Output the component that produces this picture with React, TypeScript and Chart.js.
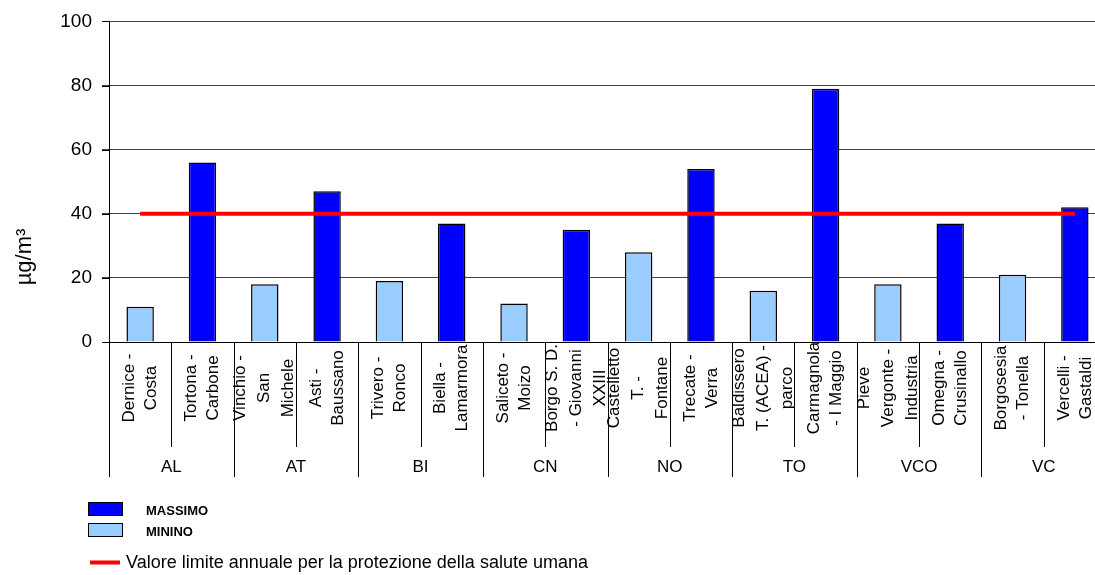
import React, { useEffect, useRef } from "react";
import { Chart, registerables } from "chart.js";

Chart.register(...registerables);

// ---- data ----
const stationLabels: string[][] = [
  ["Dernice -", "Costa"],
  ["Tortona -", "Carbone"],
  ["Vinchio -", "San", "Michele"],
  ["Asti -", "Baussano"],
  ["Trivero -", "Ronco"],
  ["Biella -", "Lamarmora"],
  ["Saliceto -", "Moizo"],
  ["Borgo S. D.", "- Giovanni", "XXIII"],
  ["Castelletto", "T. -", "Fontane"],
  ["Trecate -", "Verra"],
  ["Baldissero", "T. (ACEA) -", "parco"],
  ["Carmagnola", "- I Maggio"],
  ["Pieve", "Vergonte -", "Industria"],
  ["Omegna -", "Crusinallo"],
  ["Borgosesia", "- Tonella"],
  ["Vercelli -", "Gastaldi"],
];
const provinces = ["AL", "AT", "BI", "CN", "NO", "TO", "VCO", "VC"];
const stationsPerProvince = [2, 2, 2, 2, 2, 2, 2, 2];
const seriesType = ["min", "max", "min", "max", "min", "max", "min", "max", "min", "max", "min", "max", "min", "max", "min", "max"];
const values = [11, 56, 18, 47, 19, 37, 12, 35, 28, 54, 16, 79, 18, 37, 21, 42];
const limitValue = 40;
const yMin = 0;
const yMax = 100;
const yStep = 20;
const seriesNames = ["MASSIMO", "MININO"];
const limitLabel = "Valore limite annuale per la protezione della salute umana";
const yTitle = "µg/m³";

// ---- styles ----
const FONT = "'Liberation Sans', Arial, Helvetica, sans-serif";
const COLOR_MAX = "#0000FF";
const COLOR_MIN = "#99CCFF";
const COLOR_LIMIT = "#FF0000";

const customPlugin = {
  id: "customAxisLegend",
  afterDraw(chart: any) {
    const ctx = chart.ctx as CanvasRenderingContext2D;
    const xs = chart.scales.x;
    const ys = chart.scales.y;
    const area = chart.chartArea;
    const n = stationLabels.length;
    const w = (area.right - area.left) / n;

    ctx.save();
    ctx.strokeStyle = "#000";
    ctx.lineWidth = 1;

    // y tick marks (outside)
    ys.ticks.forEach((t: any) => {
      const py = Math.round(ys.getPixelForValue(t.value)) + 0.5;
      ctx.beginPath();
      ctx.moveTo(area.left - 7, py);
      ctx.lineTo(area.left, py);
      ctx.stroke();
    });

    // category boundaries
    const groupBounds = new Set<number>([0]);
    let acc = 0;
    stationsPerProvince.forEach((c) => {
      acc += c;
      groupBounds.add(acc);
    });
    for (let i = 0; i <= n; i++) {
      const bx = Math.round(xs.getPixelForValue(i) - w / 2) + 0.5;
      const isGroup = groupBounds.has(i);
      ctx.beginPath();
      ctx.moveTo(bx, area.bottom);
      ctx.lineTo(bx, area.bottom + (isGroup ? 135 : 105));
      ctx.stroke();
    }

    // station labels
    ctx.fillStyle = "#000";
    ctx.font = `17px ${FONT}`;
    ctx.textAlign = "center";
    ctx.textBaseline = "middle";
    stationLabels.forEach((lines, i) => {
      const cx = xs.getPixelForValue(i);
      const lh = lines.length >= 3 ? 24 : 22;
      lines.forEach((line, k) => {
        const lx = cx + (k - (lines.length - 1) / 2) * lh;
        ctx.save();
        ctx.translate(lx, area.bottom + 46);
        ctx.rotate(-Math.PI / 2);
        ctx.fillText(line, 0, 0);
        ctx.restore();
      });
    });

    // province labels
    let start = 0;
    provinces.forEach((p, g) => {
      const cnt = stationsPerProvince[g];
      const x0 = xs.getPixelForValue(start) - w / 2;
      const x1 = xs.getPixelForValue(start + cnt - 1) + w / 2;
      ctx.fillText(p, (x0 + x1) / 2, area.bottom + 125);
      start += cnt;
    });

    // y title
    ctx.save();
    ctx.font = `22px ${FONT}`;
    ctx.translate(25, 257);
    ctx.rotate(-Math.PI / 2);
    ctx.fillText(yTitle, 0, 0);
    ctx.restore();

    // legend
    ctx.textAlign = "left";
    const boxes = [
      { color: COLOR_MAX, y: 502, label: seriesNames[0] },
      { color: COLOR_MIN, y: 523, label: seriesNames[1] },
    ];
    boxes.forEach((b) => {
      ctx.fillStyle = b.color;
      ctx.fillRect(88.5, b.y + 0.5, 34, 13);
      ctx.strokeStyle = "#000";
      ctx.lineWidth = 1;
      ctx.strokeRect(88.5, b.y + 0.5, 34, 13);
      ctx.fillStyle = "#000";
      ctx.font = `bold 13px ${FONT}`;
      ctx.fillText(b.label, 146, b.y + 9);
    });
    ctx.strokeStyle = COLOR_LIMIT;
    ctx.lineWidth = 4;
    ctx.beginPath();
    ctx.moveTo(90, 562.5);
    ctx.lineTo(120, 562.5);
    ctx.stroke();
    ctx.fillStyle = "#000";
    ctx.font = `18px ${FONT}`;
    ctx.fillText(limitLabel, 126, 563);
    ctx.restore();
  },
};

export default function App() {
  const canvasRef = useRef<HTMLCanvasElement | null>(null);

  useEffect(() => {
    if (!canvasRef.current) return;
    const labels = stationLabels.map((l) => l.join(" "));
    const maxData = values.map((v, i) => (seriesType[i] === "max" ? v : null));
    const minData = values.map((v, i) => (seriesType[i] === "min" ? v : null));
    const limitData = values.map(() => limitValue);

    const chart = new Chart(canvasRef.current, {
      type: "bar",
      data: {
        labels,
        datasets: [
          {
            type: "line",
            label: limitLabel,
            data: limitData,
            borderColor: COLOR_LIMIT,
            backgroundColor: COLOR_LIMIT,
            borderWidth: 4,
            pointRadius: 0,
            tension: 0,
            order: 0,
          } as any,
          {
            label: seriesNames[0],
            data: maxData,
            backgroundColor: COLOR_MAX,
            borderColor: "#000",
            borderWidth: 1.5,
            grouped: false,
            barPercentage: 0.44,
            categoryPercentage: 1,
            order: 1,
          } as any,
          {
            label: seriesNames[1],
            data: minData,
            backgroundColor: COLOR_MIN,
            borderColor: "#000",
            borderWidth: 1.5,
            grouped: false,
            barPercentage: 0.44,
            categoryPercentage: 1,
            order: 2,
          } as any,
        ],
      },
      options: {
        responsive: false,
        animation: false,
        layout: { padding: { top: 21, right: 14, left: 0, bottom: 0 } },
        plugins: {
          legend: { display: false },
          tooltip: { enabled: false },
          title: { display: false },
        },
        scales: {
          x: {
            type: "category",
            offset: true,
            grid: { display: false },
            border: { display: true, color: "#000", width: 1 },
            ticks: { display: false },
            afterFit: (scale: any) => {
              scale.height = 233;
            },
          },
          y: {
            min: yMin,
            max: yMax,
            ticks: {
              stepSize: yStep,
              color: "#000",
              padding: 10,
              font: { family: FONT, size: 19 },
            },
            grid: {
              color: "#444",
              lineWidth: 1,
              tickLength: 7,
              drawTicks: true,
            },
            border: { display: true, color: "#000", width: 1 },
            afterFit: (scale: any) => {
              scale.width = 109;
            },
          },
        },
      },
      plugins: [customPlugin],
    });
    return () => chart.destroy();
  }, []);

  return (
    <div
      style={{
        position: "absolute",
        left: 0,
        top: 0,
        width: 1095,
        height: 575,
        overflow: "hidden",
        background: "#fff",
      }}
    >
      <canvas ref={canvasRef} width={1120} height={575} style={{ display: "block" }} />
    </div>
  );
}
